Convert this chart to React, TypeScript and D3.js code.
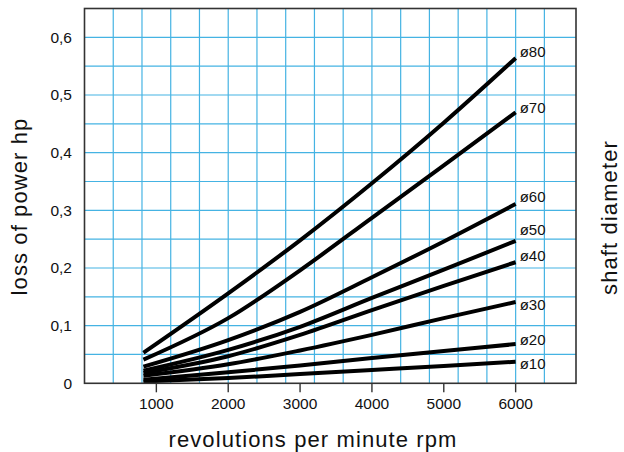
import React from "react";
import * as d3 from "d3";

const rpm = [820, 2000, 3000, 4000, 5000, 6000];
const diameters = ["ø80", "ø70", "ø60", "ø50", "ø40", "ø30", "ø20", "ø10"];
const loss80 = [0.053, 0.156, 0.248, 0.347, 0.452, 0.564];
const loss70 = [0.041, 0.113, 0.196, 0.287, 0.378, 0.47];
const loss60 = [0.029, 0.075, 0.124, 0.184, 0.246, 0.311];
const loss50 = [0.022, 0.058, 0.098, 0.148, 0.197, 0.247];
const loss40 = [0.018, 0.047, 0.084, 0.127, 0.169, 0.21];
const loss30 = [0.013, 0.033, 0.057, 0.084, 0.113, 0.141];
const loss20 = [0.006, 0.019, 0.031, 0.044, 0.056, 0.068];
const loss10 = [0.003, 0.009, 0.016, 0.023, 0.03, 0.0375];
const seriesValues = [loss80, loss70, loss60, loss50, loss40, loss30, loss20, loss10];
const xTicks = [1000, 2000, 3000, 4000, 5000, 6000];
const yTicks = [0, 0.1, 0.2, 0.3, 0.4, 0.5, 0.6];
const labelOffsets = [-6, -4, -7, -11, -6, 3, -4, 2];

const W = 624;
const H = 452;
const left = 84.5;
const right = 576;
const top = 8.5;
const bottom = 383.3;
const FONT = "'Liberation Sans', Arial, Helvetica, sans-serif";
const GRID = "#45b3e3";

export default function App() {
  const x = d3.scaleLinear().domain([0, 6840]).range([left, right]);
  const y = d3.scaleLinear().domain([0, 0.65]).range([bottom, top]);
  const locale = d3.formatLocale({ decimal: ",", thousands: "", grouping: [3], currency: ["", ""] });
  const fmtY = locale.format(".1~f");
  const line = d3
    .line<[number, number]>()
    .x((d) => x(d[0]))
    .y((d) => y(d[1]))
    .curve(d3.curveMonotoneX);

  const vGrid = d3.range(400, 6800, 400);
  const hGrid = d3.range(1, 13).map((i) => i * 0.05);

  return (
    <svg
      width={W}
      height={H}
      style={{ position: "absolute", left: 0, top: 0, background: "#fff" }}
      fontFamily={FONT}
    >
      <rect x={0} y={0} width={W} height={H} fill="#fff" />
      {vGrid.map((v) => (
        <line key={"v" + v} x1={x(v)} x2={x(v)} y1={top} y2={bottom} stroke={GRID} strokeWidth={1.2} />
      ))}
      {hGrid.map((v) => (
        <line key={"h" + v} x1={left} x2={right} y1={y(v)} y2={y(v)} stroke={GRID} strokeWidth={1.2} />
      ))}
      {seriesValues.map((vals, i) => (
        <path
          key={diameters[i]}
          d={line(rpm.map((r, j) => [r, vals[j]] as [number, number])) || ""}
          fill="none"
          stroke="#000"
          strokeWidth={4}
          strokeLinecap="butt"
        />
      ))}
      <rect x={left} y={top} width={right - left} height={bottom - top} fill="none" stroke="#333" strokeWidth={1.6} />
      {xTicks.map((t) => (
        <g key={"xt" + t}>
          <line x1={x(t)} x2={x(t)} y1={bottom} y2={bottom + 9} stroke="#333" strokeWidth={1.4} />
          <text x={x(t)} y={409} textAnchor="middle" fontSize={15.5} fill="#111">
            {String(t)}
          </text>
        </g>
      ))}
      {yTicks.map((t) => (
        <text key={"yt" + t} x={72} y={y(t) + 5.5} textAnchor="end" fontSize={15.5} fill="#111">
          {fmtY(t)}
        </text>
      ))}
      {diameters.map((d, i) => {
        const vals = seriesValues[i];
        return (
          <text
            key={"lb" + d}
            x={x(rpm[rpm.length - 1]) + 4}
            y={y(vals[vals.length - 1]) + labelOffsets[i] + 5}
            fontSize={15}
            fill="#111"
          >
            {d}
          </text>
        );
      })}
      <text x={313} y={446.5} textAnchor="middle" fontSize={22} letterSpacing={1.1} fill="#111">
        revolutions per minute rpm
      </text>
      <text
        transform={`translate(27,206.5) rotate(-90)`}
        textAnchor="middle"
        fontSize={22}
        letterSpacing={1.1}
        fill="#111"
      >
        loss of power hp
      </text>
      <text
        transform={`translate(617,217.5) rotate(-90)`}
        textAnchor="middle"
        fontSize={22}
        letterSpacing={1.1}
        fill="#111"
      >
        shaft diameter
      </text>
    </svg>
  );
}
